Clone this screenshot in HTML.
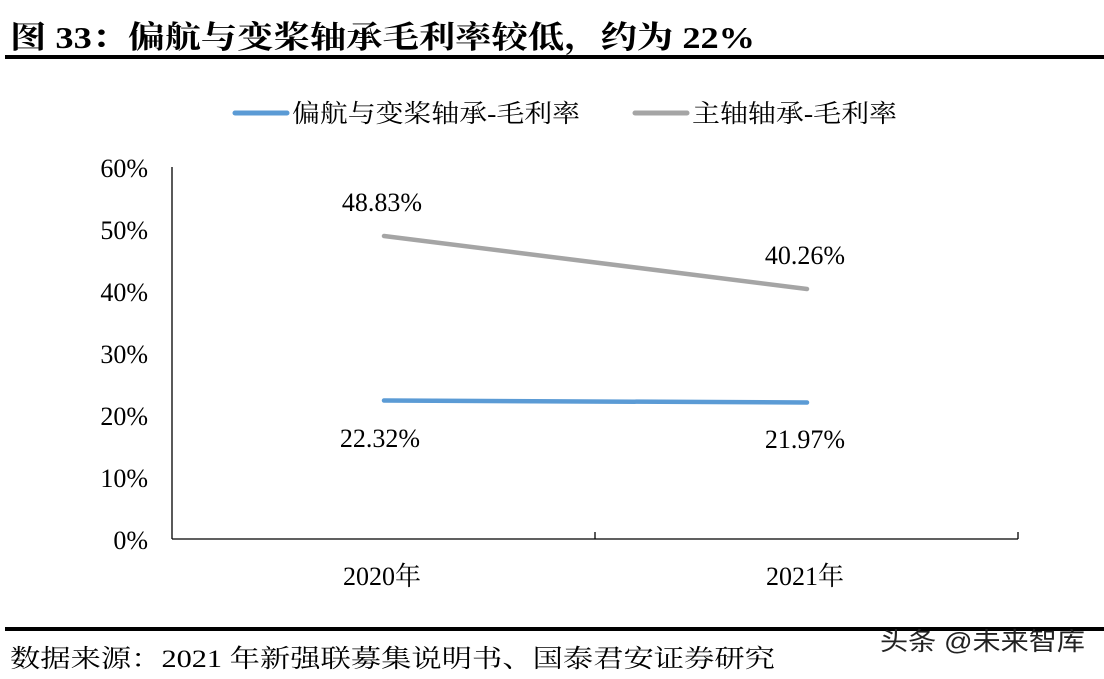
<!DOCTYPE html>
<html><head><meta charset="utf-8"><style>
body{margin:0;background:#fff;width:1104px;height:674px;overflow:hidden}
</style></head><body>
<svg width="1104" height="674" xmlns="http://www.w3.org/2000/svg" style="font-family:'Liberation Serif','Noto Serif CJK SC',serif">
<text x="10" y="48" font-size="31" font-weight="bold" fill="#000" textLength="745" lengthAdjust="spacingAndGlyphs">图 33：偏航与变桨轴承毛利率较低，约为 22%</text>
<rect x="5" y="55" width="1099" height="4" fill="#000"/>
<line x1="235" y1="113" x2="287" y2="113" stroke="#5b9bd5" stroke-width="5" stroke-linecap="round"/>
<text x="292" y="122" font-size="25" textLength="288" lengthAdjust="spacingAndGlyphs">偏航与变桨轴承-毛利率</text>
<line x1="635" y1="113" x2="687" y2="113" stroke="#a5a5a5" stroke-width="5" stroke-linecap="round"/>
<text x="692" y="122" font-size="25" textLength="205" lengthAdjust="spacingAndGlyphs">主轴轴承-毛利率</text>
<g stroke="#000" stroke-width="1.3" fill="none">
<line x1="172" y1="167" x2="172" y2="539"/>
<line x1="172" y1="539" x2="1018" y2="539"/>
<line x1="595" y1="532" x2="595" y2="539"/>
<line x1="1018" y1="532" x2="1018" y2="539"/>
</g>
<g font-size="26" text-anchor="end">
<text x="148" y="177">60%</text><text x="148" y="239">50%</text><text x="148" y="301">40%</text>
<text x="148" y="363">30%</text><text x="148" y="425">20%</text><text x="148" y="487">10%</text><text x="148" y="549">0%</text>
</g>
<g font-size="26" text-anchor="middle">
<text x="382" y="585">2020年</text><text x="805" y="585">2021年</text>
</g>
<line x1="384" y1="236" x2="807" y2="289" stroke="#a5a5a5" stroke-width="4.5" stroke-linecap="round"/>
<line x1="384" y1="400.5" x2="807" y2="402.5" stroke="#5b9bd5" stroke-width="4.5" stroke-linecap="round"/>
<g font-size="26" text-anchor="middle">
<text x="382" y="211">48.83%</text><text x="805" y="264">40.26%</text>
<text x="380" y="447">22.32%</text><text x="805" y="448">21.97%</text>
</g>
<rect x="5" y="627" width="1099" height="4" fill="#000"/>
<text x="10" y="667" font-size="25" textLength="765" lengthAdjust="spacingAndGlyphs">数据来源：2021 年新强联募集说明书、国泰君安证券研究</text>
<text x="880" y="650" font-size="25" fill="#222" textLength="205" lengthAdjust="spacingAndGlyphs" style="font-family:'Liberation Sans','Noto Sans CJK SC',sans-serif">头条 @未来智库</text>
</svg>
</body></html>
